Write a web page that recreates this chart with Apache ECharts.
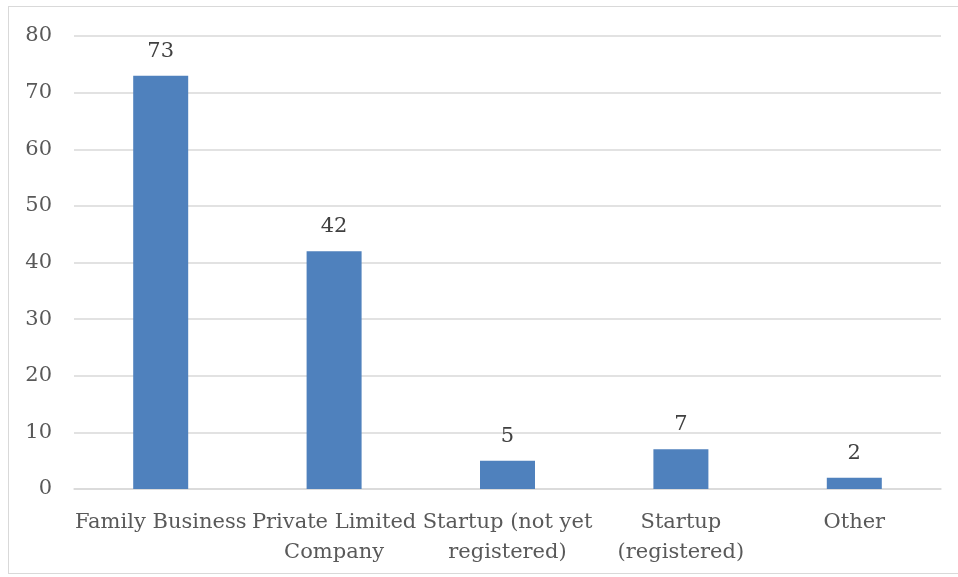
<!DOCTYPE html>
<html>
<head>
<meta charset="utf-8">
<script src="https://cdn.jsdelivr.net/npm/echarts@6/dist/echarts.min.js"></script>
<style>
  html, body { margin: 0; padding: 0; background: #fff; }
  #frame { position: absolute; left: 8px; top: 6px; width: 960px; height: 568px; border: 1.5px solid #d9d9d9; box-sizing: border-box; }
  #chart { width: 958px; height: 577px; position: absolute; left: 0; top: 0; }
</style>
</head>
<body>
<div id="frame"></div>
<div id="chart"></div>
<script>
// Business types and respondent counts
const categories = ['Family Business', 'Private Limited Company', 'Startup (not yet registered)', 'Startup (registered)', 'Other'];
const tickLabels = ['Family Business', 'Private Limited\nCompany', 'Startup (not yet\nregistered)', 'Startup\n(registered)', 'Other'];
const counts = [73, 42, 5, 7, 2];
const yTicks = [0, 10, 20, 30, 40, 50, 60, 70, 80];

const FONT = "'DejaVu Serif', serif";
const chart = echarts.init(document.getElementById('chart'), null, { renderer: 'canvas' });
chart.setOption({
  animation: false,
  grid: { left: 74, right: 17, top: 36, bottom: 88, containLabel: false },
  xAxis: {
    type: 'category',
    data: categories,
    axisLine: { show: true, lineStyle: { color: '#d9d9d9', width: 1.5 } },
    axisTick: { show: false },
    axisLabel: {
      interval: 0,
      color: '#595959',
      fontFamily: FONT,
      fontSize: 21,
      lineHeight: 30,
      margin: 19,
      formatter: (v, i) => tickLabels[i]
    }
  },
  yAxis: {
    type: 'value',
    min: yTicks[0],
    max: yTicks[yTicks.length - 1],
    interval: 10,
    axisLine: { show: false },
    axisTick: { show: false },
    splitLine: { lineStyle: { color: '#d9d9d9', width: 1.5 } },
    axisLabel: { color: '#595959', fontFamily: FONT, fontSize: 21, margin: 22 }
  },
  series: [{
    type: 'bar',
    data: counts,
    barWidth: 55,
    itemStyle: { color: '#4f81bd' },
    label: {
      show: true,
      position: 'top',
      distance: 14,
      color: '#404040',
      fontFamily: FONT,
      fontSize: 21
    }
  }]
});
</script>
</body>
</html>
